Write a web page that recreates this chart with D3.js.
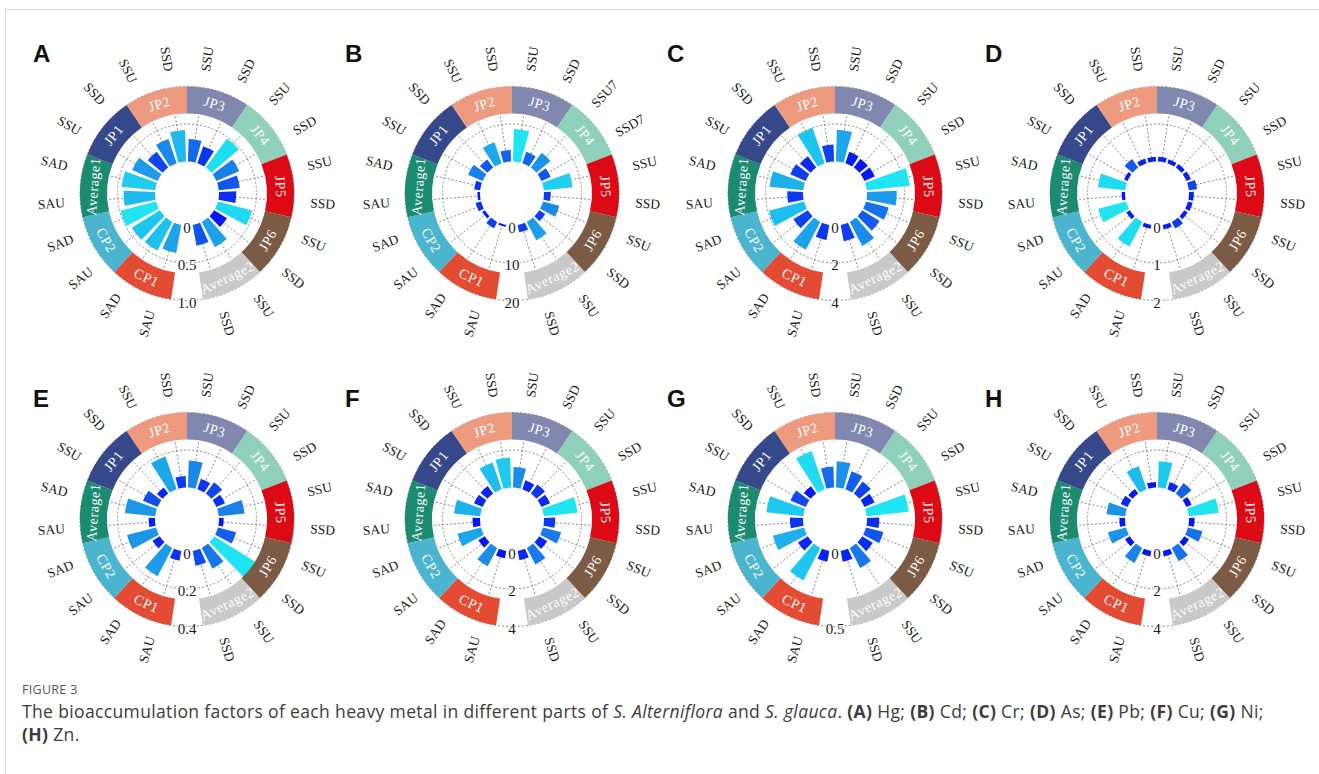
<!DOCTYPE html>
<html>
<head>
<meta charset="utf-8">
<script src="https://cdn.jsdelivr.net/npm/d3@7"></script>
<style>
  body { margin: 0; background: #fff; }
  svg { display: block; }
</style>
</head>
<body>
<svg id="fig" width="1319" height="774"></svg>
<script>
// ---- categories ----
const groups = ["CP1", "CP2", "Average1", "JP1", "JP2", "JP3", "JP4", "JP5", "JP6", "Average2"];
const groupColors = ["#e34b33", "#4bb5cf", "#1b8b70", "#35488a", "#ee9a7f", "#8088b0", "#8ed0b9", "#db0a14", "#7b5b44", "#c9c9c9"];
const parts = ["SAU", "SAD", "SAU", "SAD", "SAU", "SAD", "SSU", "SSD", "SSU", "SSD",
               "SSU", "SSD", "SSU", "SSD", "SSU", "SSD", "SSU", "SSD", "SSU", "SSD"];
const partsCd = ["SAU", "SAD", "SAU", "SAD", "SAU", "SAD", "SSU", "SSD", "SSU", "SSD",
                 "SSU", "SSD", "SSU7", "SSD7", "SSU", "SSD", "SSU", "SSD", "SSU", "SSD"];

// ---- bioaccumulation factors, two bars per group, in group order ----
const hg = [0.38, 0.43, 0.44, 0.49, 0.42, 0.45, 0.37, 0.26, 0.34, 0.42, 0.30, 0.24, 0.48, 0.33, 0.28, 0.23, 0.47, 0.20, 0.38, 0.28];
const cd = [0.5, 1.9, 0.8, 1.5, 0.7, 1.6, 4.2, 2.7, 5.9, 3.1, 8.7, 3.2, 4.9, 2.7, 7.7, 1.8, 4.5, 1.9, 5.5, 2.0];
const cr = [0.82, 1.67, 0.90, 1.94, 0.84, 1.80, 0.89, 0.75, 1.99, 0.91, 1.70, 0.64, 0.59, 0.60, 2.30, 1.59, 1.25, 1.09, 1.45, 0.88];
const as = [0.10, 0.74, 0.11, 0.77, 0.09, 0.73, 0.10, 0.28, 0.13, 0.13, 0.13, 0.11, 0.12, 0.13, 0.22, 0.13, 0.13, 0.11, 0.20, 0.12];
const pb = [0.053, 0.17, 0.046, 0.16, 0.034, 0.162, 0.085, 0.04, 0.185, 0.062, 0.144, 0.059, 0.075, 0.05, 0.138, 0.025, 0.10, 0.272, 0.125, 0.08];
const cu = [0.4, 1.1, 0.4, 1.3, 0.4, 1.4, 0.5, 0.5, 1.5, 1.6, 1.1, 0.5, 0.6, 0.5, 1.8, 0.6, 1.0, 0.5, 1.0, 0.5];
const ni = [0.073, 0.244, 0.077, 0.215, 0.087, 0.246, 0.11, 0.06, 0.27, 0.14, 0.176, 0.127, 0.10, 0.074, 0.28, 0.082, 0.12, 0.083, 0.151, 0.073];
const zn = [0.3, 0.9, 0.3, 1.0, 0.3, 1.0, 0.4, 0.3, 1.3, 0.3, 1.4, 0.4, 0.7, 0.3, 1.6, 0.3, 0.8, 0.3, 0.8, 0.3];

// ---- radial axis ticks ----
const ticksHg = [0, 0.5, 1.0],  tickLabelsHg = ["0", "0.5", "1.0"];
const ticksCd = [0, 10, 20],    tickLabelsCd = ["0", "10", "20"];
const ticksCr = [0, 2, 4],      tickLabelsCr = ["0", "2", "4"];
const ticksAs = [0, 1, 2],      tickLabelsAs = ["0", "1", "2"];
const ticksPb = [0, 0.2, 0.4],  tickLabelsPb = ["0", "0.2", "0.4"];
const ticksCu = [0, 2, 4],      tickLabelsCu = ["0", "2", "4"];
const ticksNi = [0, 0.5],       tickLabelsNi = ["0", "0.5"];
const ticksZn = [0, 2, 4],      tickLabelsZn = ["0", "2", "4"];

const panelLetters = ["A", "B", "C", "D", "E", "F", "G", "H"];

const panels = [
  { letter: panelLetters[0], values: hg, labels: parts,   ticks: ticksHg, tickLabels: tickLabelsHg },
  { letter: panelLetters[1], values: cd, labels: partsCd, ticks: ticksCd, tickLabels: tickLabelsCd },
  { letter: panelLetters[2], values: cr, labels: parts,   ticks: ticksCr, tickLabels: tickLabelsCr },
  { letter: panelLetters[3], values: as, labels: parts,   ticks: ticksAs, tickLabels: tickLabelsAs },
  { letter: panelLetters[4], values: pb, labels: parts,   ticks: ticksPb, tickLabels: tickLabelsPb },
  { letter: panelLetters[5], values: cu, labels: parts,   ticks: ticksCu, tickLabels: tickLabelsCu },
  { letter: panelLetters[6], values: ni, labels: parts,   ticks: ticksNi, tickLabels: tickLabelsNi },
  { letter: panelLetters[7], values: zn, labels: parts,   ticks: ticksZn, tickLabels: tickLabelsZn }
];

// ---- layout ----
const colX = [187, 512, 835, 1157];
const rowY = [193.5, 519.5];
const letterX = [33, 345, 667, 985];
const letterY = [62, 407];
const R = 107;          // outer edge of the group ring
const ringW = 27;       // ring thickness
const r0 = 32;          // radius of the zero line
const labelR = 136;     // radius of the part labels
const serif = "'Liberation Serif', 'Times New Roman', serif";

const svg = d3.select("#fig");

// thin frame lines
svg.append("line").attr("x1", 5.5).attr("x2", 1319).attr("y1", 9.5).attr("y2", 9.5)
  .attr("stroke", "#d4d4d4").attr("stroke-width", 1);
svg.append("line").attr("x1", 5.5).attr("x2", 5.5).attr("y1", 9.5).attr("y2", 774)
  .attr("stroke", "#d4d4d4").attr("stroke-width", 1);

const nSlots = groups.length * 2;
const step = 2 * Math.PI / (nSlots + 1);      // one empty slot forms the opening at the bottom
const keys = d3.range(nSlots).map(i => groups[Math.floor(i / 2)] + "-" + i);
const slot = d3.scaleBand().domain(keys).range([Math.PI + step / 2, 3 * Math.PI - step / 2]);
const bw = slot.bandwidth();
const toDeg = a => a * 180 / Math.PI;
const norm = d => ((d % 360) + 360) % 360;

const arc = d3.arc();

panels.forEach((p, pi) => {
  const cx = colX[pi % 4], cy = rowY[Math.floor(pi / 4)];
  const g = svg.append("g").attr("transform", `translate(${cx},${cy})`);
  const vmax = p.ticks[p.ticks.length - 1];
  const r = d3.scaleLinear().domain([0, vmax]).range([r0, R]);
  const ext = d3.extent(p.values);
  const color = d3.scaleLinear()
    .domain([ext[0], (ext[0] + ext[1]) / 2, ext[1]])
    .range(["#0716f2", "#1b8ce8", "#20e4f2"]);

  // grid: circles at ticks, spokes at bar centres
  const grid = g.append("g").attr("fill", "none").attr("stroke", "#8a8a8a")
    .attr("stroke-width", 1).attr("stroke-dasharray", "2,2");
  p.ticks.filter(t => t > 0).forEach(t => grid.append("circle").attr("r", r(t)));
  keys.forEach(k => {
    const a = slot(k) + bw / 2;
    grid.append("line")
      .attr("x1", Math.sin(a) * r0).attr("y1", -Math.cos(a) * r0)
      .attr("x2", Math.sin(a) * (R - ringW)).attr("y2", -Math.cos(a) * (R - ringW));
  });

  // bars
  g.append("g").selectAll("path").data(p.values).join("path")
    .attr("d", (v, i) => arc({
      innerRadius: r0, outerRadius: r(v),
      startAngle: slot(keys[i]) + bw * 0.1, endAngle: slot(keys[i]) + bw * 0.9
    }))
    .attr("fill", v => color(v));

  // group ring
  groups.forEach((grp, gi) => {
    const a0 = slot(keys[gi * 2]), a1 = slot(keys[gi * 2 + 1]) + bw;
    g.append("path")
      .attr("d", arc({ innerRadius: R - ringW, outerRadius: R, startAngle: a0, endAngle: a1 }))
      .attr("fill", groupColors[gi]);
    let deg = norm(toDeg((a0 + a1) / 2));
    if (deg > 180) deg -= 360;
    const rot = (deg >= -90 && deg <= 90) ? deg : deg - 180;
    const rm = R - ringW / 2;
    const am = (a0 + a1) / 2;
    g.append("text")
      .attr("transform", `translate(${Math.sin(am) * rm},${-Math.cos(am) * rm}) rotate(${rot})`)
      .attr("text-anchor", "middle").attr("dominant-baseline", "central")
      .attr("font-family", serif).attr("font-size", 14).attr("fill", "#fff")
      .attr("letter-spacing", 0.6)
      .text(grp);
  });

  // part labels around the outside
  keys.forEach((k, i) => {
    const a = slot(k) + bw / 2;
    const deg = norm(toDeg(a));
    const rot = deg < 180 ? deg - 90 : deg - 270;
    g.append("text")
      .attr("transform", `translate(${Math.sin(a) * labelR},${-Math.cos(a) * labelR}) rotate(${rot})`)
      .attr("text-anchor", "middle").attr("dominant-baseline", "central")
      .attr("font-family", serif).attr("font-size", 13.5).attr("fill", "#1a1a1a")
      .text(p.labels[i]);
  });

  // radial tick labels in the opening
  p.ticks.forEach((t, ti) => {
    g.append("text")
      .attr("x", 0).attr("y", r(t) + 2)
      .attr("text-anchor", "middle").attr("dominant-baseline", "central")
      .attr("font-family", serif).attr("font-size", 15).attr("fill", "#1a1a1a")
      .attr("stroke", "#fff").attr("stroke-width", 2).attr("paint-order", "stroke")
      .text(p.tickLabels[ti]);
  });

  // panel letter
  svg.append("text")
    .attr("x", letterX[pi % 4]).attr("y", letterY[Math.floor(pi / 4)])
    .attr("font-family", "'Liberation Sans', Arial, sans-serif").attr("font-weight", "bold")
    .attr("font-size", 24).attr("fill", "#111")
    .text(p.letter);
});

// ---- caption ----
const capFont = "'Open Sans', 'Noto Sans', sans-serif";
svg.append("text").attr("x", 22).attr("y", 694)
  .attr("font-family", capFont).attr("font-size", 12.5).attr("fill", "#555")
  .attr("letter-spacing", 0.3)
  .text("FIGURE 3");

const line1 = svg.append("text").attr("x", 22).attr("y", 718)
  .attr("font-family", capFont).attr("font-size", 17.5).attr("fill", "#3c3c3c")
  .attr("letter-spacing", 0.36);
const seg1 = [
  ["The bioaccumulation factors of each heavy metal in different parts of ", "n"],
  ["S. Alterniflora", "i"], [" and ", "n"], ["S. glauca", "i"], [". ", "n"],
  ["(A)", "b"], [" Hg; ", "n"], ["(B)", "b"], [" Cd; ", "n"], ["(C)", "b"], [" Cr; ", "n"],
  ["(D)", "b"], [" As; ", "n"], ["(E)", "b"], [" Pb; ", "n"], ["(F)", "b"], [" Cu; ", "n"],
  ["(G)", "b"], [" Ni;", "n"]
];
seg1.forEach(([t, s]) => {
  line1.append("tspan")
    .attr("font-style", s === "i" ? "italic" : null)
    .attr("font-weight", s === "b" ? "bold" : null)
    .text(t);
});
const line2 = svg.append("text").attr("x", 22).attr("y", 741)
  .attr("font-family", capFont).attr("font-size", 17.5).attr("fill", "#3c3c3c")
  .attr("letter-spacing", 0.36);
line2.append("tspan").attr("font-weight", "bold").text("(H)");
line2.append("tspan").text(" Zn.");
</script>
</body>
</html>
